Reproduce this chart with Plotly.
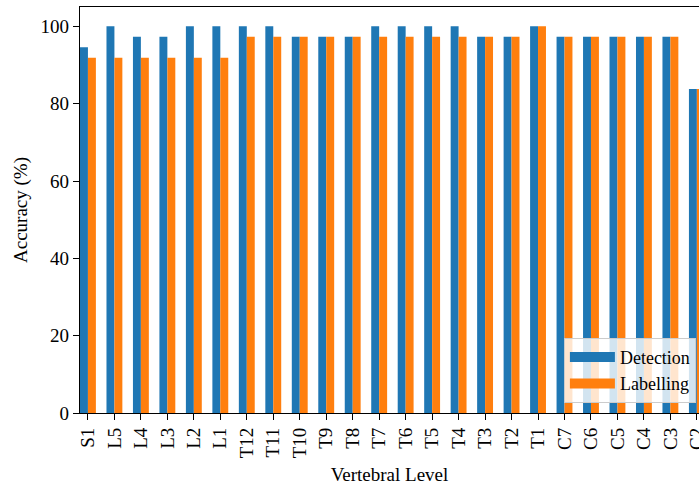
import plotly.graph_objects as go

levels = ["S1", "L5", "L4", "L3", "L2", "L1", "T12", "T11", "T10", "T9", "T8", "T7",
          "T6", "T5", "T4", "T3", "T2", "T1", "C7", "C6", "C5", "C4", "C3", "C2"]
detection = [94.6, 100, 97.3, 97.3, 100, 100, 100, 100, 97.3, 97.3, 97.3, 100,
             100, 100, 100, 97.3, 97.3, 100, 97.3, 97.3, 97.3, 97.3, 97.3, 83.8]
labelling = [91.9, 91.9, 91.9, 91.9, 91.9, 91.9, 97.3, 97.3, 97.3, 97.3, 97.3, 97.3,
             97.3, 97.3, 97.3, 97.3, 97.3, 100, 97.3, 97.3, 97.3, 97.3, 97.3, 83.8]
series_names = ["Detection", "Labelling"]
colors = ["#1f77b4", "#ff7f0e"]

FONT = "Liberation Serif"
FS = 19

fig = go.Figure()
for name, vals, col in zip(series_names, [detection, labelling], colors):
    fig.add_trace(go.Bar(x=levels, y=vals, name=name, marker_color=col,
                         marker_line_width=0, showlegend=False))
# legend entries drawn as wide patches
for name, col in zip(series_names, colors):
    fig.add_trace(go.Scatter(x=[None], y=[None], mode="lines", name=name,
                             line=dict(color=col, width=13)))

fig.update_layout(
    width=699, height=487,
    margin=dict(l=80, r=0, t=7, b=74),
    paper_bgcolor="white", plot_bgcolor="white",
    barmode="group", bargap=0.4, bargroupgap=0,
    font=dict(family=FONT, size=FS, color="black"),
    showlegend=True,
    legend=dict(
        x=0.995, y=0.025, xanchor="right", yanchor="bottom",
        bgcolor="rgba(255,255,255,0.8)", bordercolor="#cccccc", borderwidth=1,
        font=dict(family=FONT, size=18),
        itemwidth=45, tracegroupgap=0,
    ),
    xaxis=dict(
        type="category", range=[-0.3, 23.08], automargin=False,
        showline=True, linecolor="black", linewidth=1.2, mirror=True,
        ticks="outside", ticklen=6, tickwidth=1, tickcolor="black",
        tickangle=-90, showgrid=False,
        title=dict(text="Vertebral Level", font=dict(family=FONT, size=FS), standoff=10),
    ),
    yaxis=dict(
        range=[0, 105], automargin=False,
        tickvals=[0, 20, 40, 60, 80, 100],
        showline=True, linecolor="black", linewidth=1.2,
        ticks="outside", ticklen=6, tickwidth=1, tickcolor="black",
        showgrid=False, zeroline=False,
        title=dict(text="Accuracy (%)", font=dict(family=FONT, size=FS), standoff=7),
    ),
)

fig.write_html("out.html", config={"displayModeBar": False},
               post_script="document.body.style.margin='0';")
